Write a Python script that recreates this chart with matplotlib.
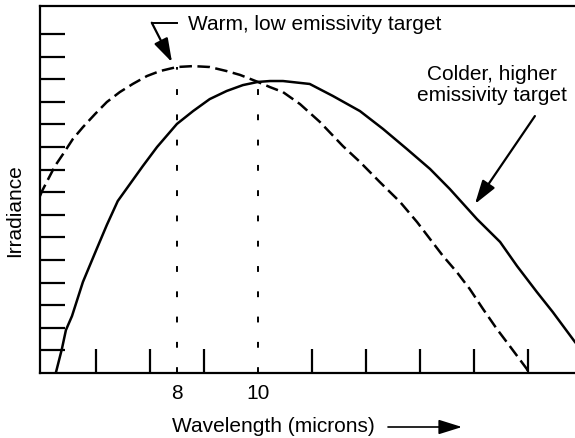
import numpy as np
import matplotlib
matplotlib.use('Agg')
import matplotlib.pyplot as plt

plt.rcParams['font.family'] = ['Liberation Sans', 'DejaVu Sans']

# wavelength (microns) vs irradiance (arbitrary units, one unit per y tick)
warm_x = [4.62, 4.67, 4.99, 5.19, 5.43, 5.68, 5.98, 6.27, 6.59, 6.91, 7.26, 7.58,
          8.00, 8.40, 8.81, 9.23, 9.56, 10.00, 10.30, 10.62, 11.04, 11.53, 12.10,
          12.52, 13.01, 13.51, 13.93, 14.25, 14.57, 14.91, 15.23, 15.56, 15.90,
          16.22, 16.64, 16.69]
warm_y = [7.83, 8.05, 9.16, 9.69, 10.35, 10.88, 11.46, 11.99, 12.43, 12.79, 13.14, 13.36,
          13.54, 13.58, 13.54, 13.36, 13.19, 12.88, 12.65, 12.43, 11.90, 11.11, 10.04,
          9.34, 8.45, 7.57, 6.68, 5.93, 5.18, 4.47, 3.72, 2.83, 1.95,
          1.19, 0.18, 0.0]

cold_x = [5.01, 5.16, 5.26, 5.41, 5.68, 6.02, 6.27, 6.54, 6.84, 7.16, 7.51, 8.00,
          8.40, 8.81, 9.23, 9.63, 10.00, 10.30, 10.62, 11.28, 11.85, 12.52, 13.09,
          13.68, 14.25, 14.74, 15.41, 15.98, 16.40, 16.89, 17.28, 17.83]
cold_y = [0.0, 1.06, 1.90, 2.52, 4.03, 5.49, 6.55, 7.61, 8.36, 9.16, 10.00, 11.02,
          11.59, 12.12, 12.48, 12.74, 12.88, 12.92, 12.92, 12.79, 12.26, 11.59, 10.80,
          9.91, 9.03, 8.14, 6.81, 5.80, 4.73, 3.58, 2.70, 1.37]

peaks = [8, 10]
peak_levels = [13.54, 12.88]
x_minor = [6 + 4 * k / 3 for k in range(9)]
y_ticks = list(range(1, 16))

fig = plt.figure(figsize=(5.75, 4.39), dpi=100)
ax = fig.add_axes([40 / 575, 65 / 439, 535 / 575, 367 / 439])

ax.plot(warm_x, warm_y, color='k', lw=1.8, linestyle=(0, (5, 2.2)))
ax.plot(cold_x, cold_y, color='k', lw=1.8)
for p, lev in zip(peaks, peak_levels):
    ax.plot([p, p], [0, lev], color='k', lw=1.4, linestyle=(0, (3, 10)))

ax.set_xlim(4.62, 17.83)
ax.set_ylim(0, 16.24)

ax.spines['right'].set_visible(False)
for s in ['left', 'bottom', 'top']:
    ax.spines[s].set_linewidth(1.6)

ax.set_xticks(peaks)
ax.set_xticklabels([str(p) for p in peaks], fontsize=15)
ax.tick_params(axis='x', which='major', length=0, pad=7)
ax.set_xticks(x_minor, minor=True)
ax.tick_params(axis='x', which='minor', direction='in', length=17, width=1.6)
ax.set_yticks(y_ticks)
ax.set_yticklabels([])
ax.tick_params(axis='y', which='major', direction='in', length=18, width=1.6)

arrow_style = '-|>,head_length=0.8,head_width=0.25'

# annotations
ax.plot([7.38, 8.0], [15.5, 15.5], color='k', lw=1.4)
ax.annotate('', xy=(7.88, 13.75), xytext=(7.38, 15.5),
            arrowprops=dict(arrowstyle=arrow_style, mutation_scale=18, lw=1.6,
                            color='k', shrinkA=0, shrinkB=0))
ax.text(8.27, 15.45, 'Warm, low emissivity target', fontsize=15, ha='left', va='center')

ax.text(15.78, 12.78, 'Colder, higher\nemissivity target', fontsize=15,
        ha='center', va='center', linespacing=1.1)
ax.annotate('', xy=(15.36, 7.48), xytext=(16.84, 11.37),
            arrowprops=dict(arrowstyle=arrow_style, mutation_scale=18, lw=1.6,
                            color='k', shrinkA=0, shrinkB=0))

fig.text(15 / 575, 1 - 211 / 439, 'Irradiance', rotation=90, fontsize=15,
         ha='center', va='center')
fig.text(273 / 575, 1 - 427 / 439, 'Wavelength (microns)', fontsize=15,
         ha='center', va='center')
fig.add_artist(matplotlib.patches.FancyArrowPatch(
    (388 / 575, 1 - 428 / 439), (462 / 575, 1 - 428 / 439), transform=fig.transFigure,
    arrowstyle=arrow_style, mutation_scale=18, lw=1.2, color='k', shrinkA=0, shrinkB=0))

fig.savefig('out.png', dpi=100)
